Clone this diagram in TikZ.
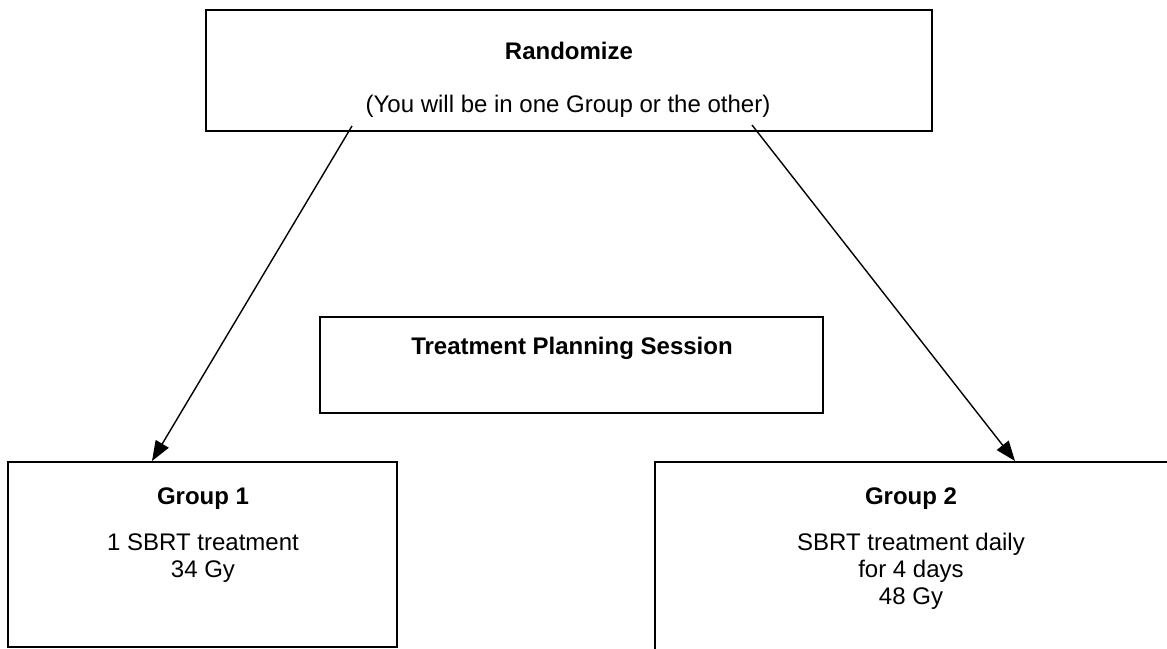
\documentclass[tikz,border=0pt]{standalone}
\usepackage{fontspec}
\setmainfont{Liberation Sans}
\usetikzlibrary{arrows.meta}
\tikzset{
  boite/.style={draw,line width=1pt,inner sep=0pt},
  titre/.style={anchor=base,inner sep=0pt,font=\fontsize{12}{13.5}\selectfont\bfseries},
  texte/.style={anchor=base,inner sep=0pt,font=\fontsize{12}{13.5}\selectfont},
  fleche/.style={line width=0.7pt,-{Triangle[length=10pt,width=7.5pt]}}
}
\begin{document}
\begin{tikzpicture}[x=0.5pt,y=-0.5pt]
            \useasboundingbox (0,0) rectangle (1167,648);
            \clip (0,0) rectangle (1167,648);
            % les boites
            \node[boite,minimum width=363pt,minimum height=60.5pt] (rand) at (568.5,70.5) {};
            \node[boite,minimum width=251.5pt,minimum height=48pt] (plan) at (571.5,365) {};
            \node[boite,minimum width=194.5pt,minimum height=92.5pt] (grp1) at (202.5,554.5) {};
            \node[boite,minimum width=258.5pt,minimum height=95pt] (grp2) at (913.5,557) {};%coupee a droite et en bas
            % les textes
            \node[titre] (trand) at (569,59) {Randomize};
            \node[texte] (srand) at (568,112) {(You will be in one Group or the other)};
            \node[titre] (tplan) at (572,354) {Treatment Planning Session};
            \node[titre] (tgrp1) at (203,504) {Group 1};
            \node[texte] (la) at (203,550) {1 SBRT treatment};
            \node[texte] (lb) at (203,577) {34 Gy};
            \node[titre] (tgrp2) at (911,504) {Group 2};
            \node[texte] (lc) at (911,550) {SBRT treatment daily};
            \node[texte] (ld) at (911,577) {for 4 days};
            \node[texte] (le) at (911,604) {48 Gy};
            % les fleches
            \coordinate (d1) at (352,126);
            \coordinate (a1) at (152,461);
            \coordinate (d2) at (752,125);
            \coordinate (a2) at (1015,461);
            \draw[fleche] (d1) -- (a1);
            \draw[fleche] (d2) -- (a2);
        \end{tikzpicture}
\end{document}
